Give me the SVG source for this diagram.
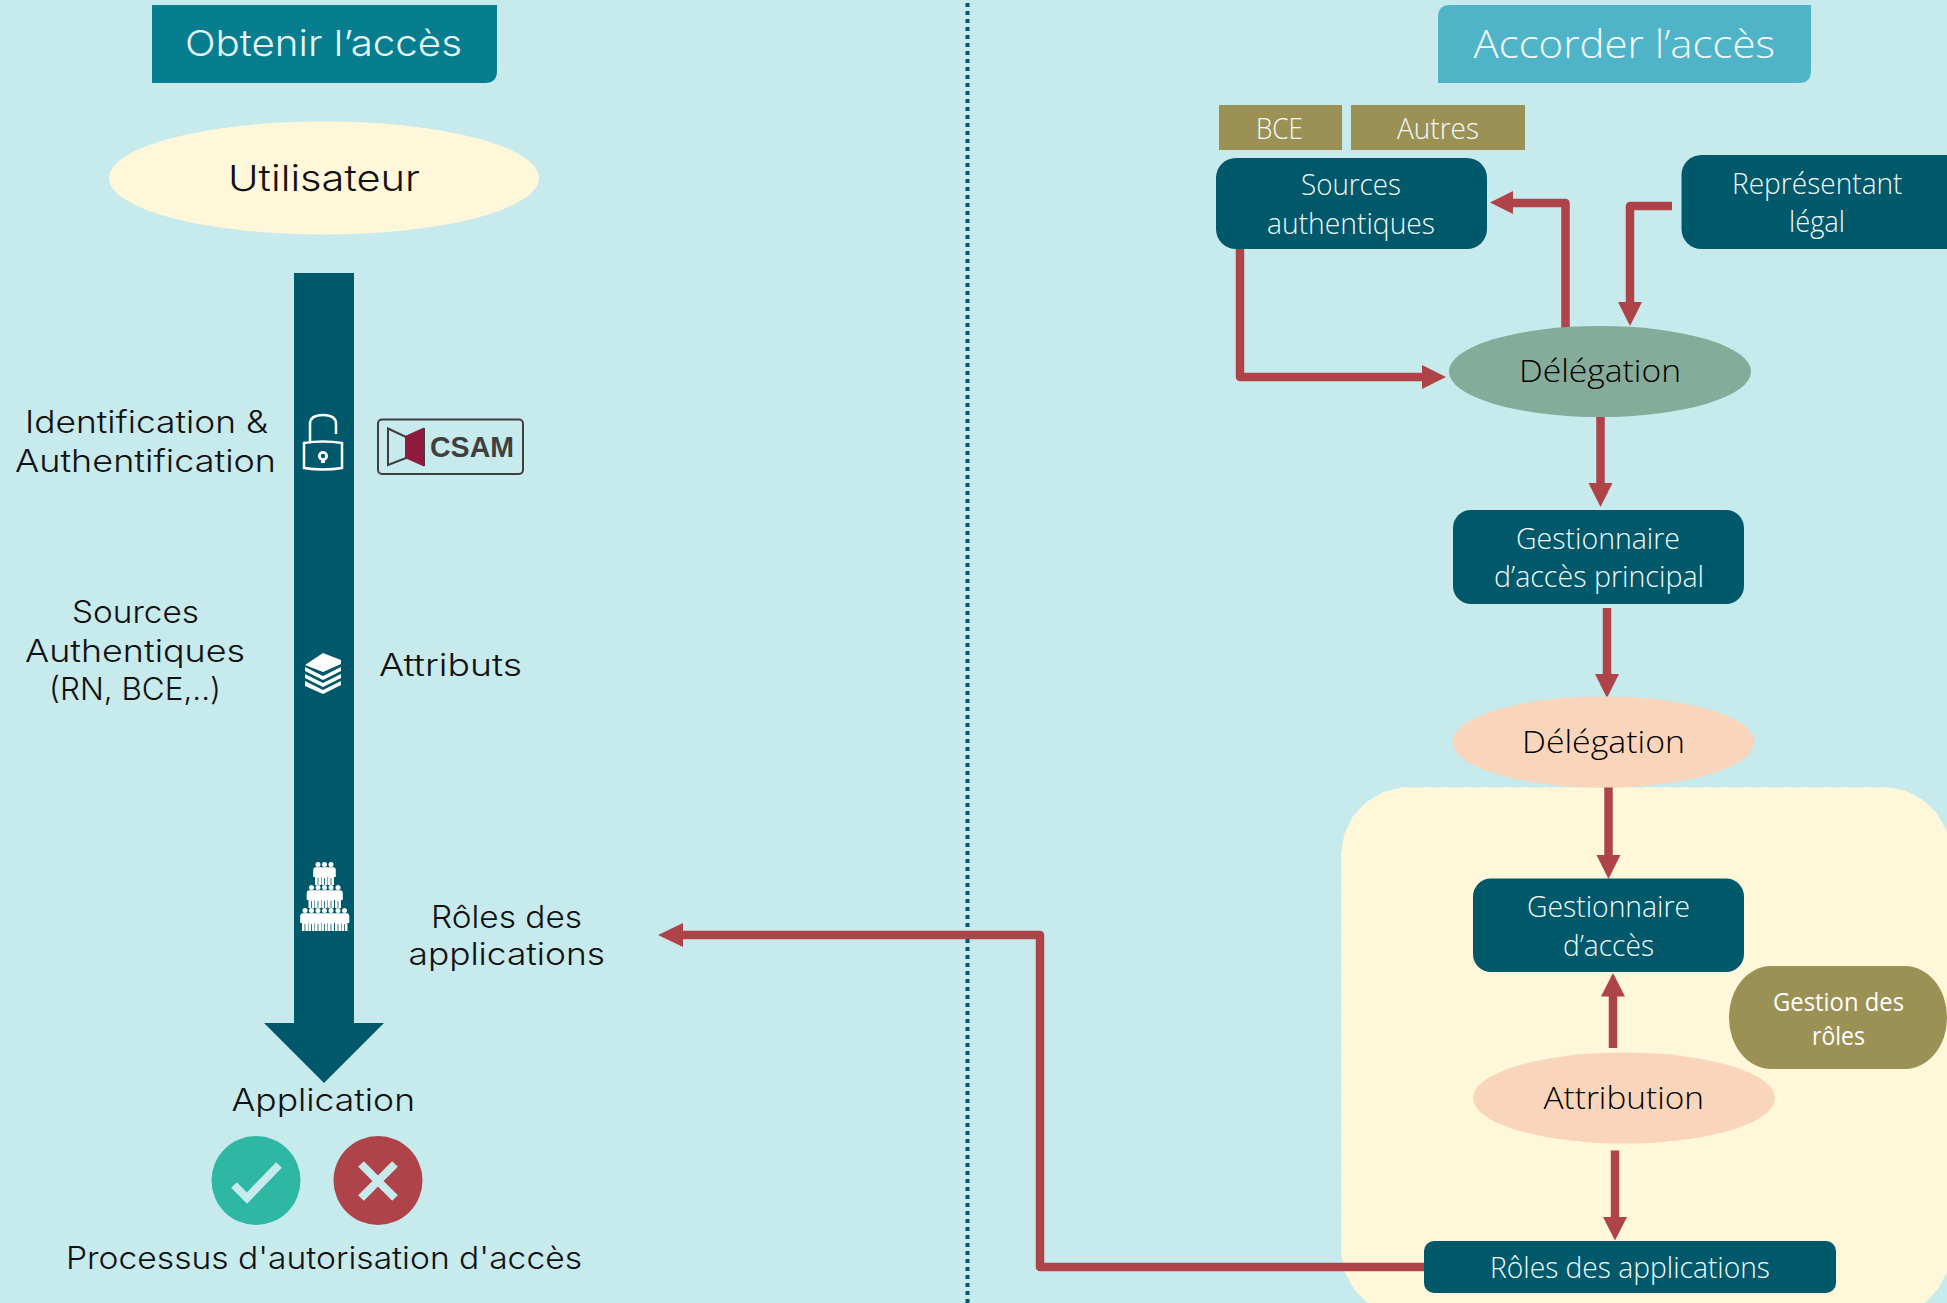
<svg xmlns="http://www.w3.org/2000/svg" width="1947" height="1303" viewBox="0 0 1947 1303">
<style>
.m{font-family:"Inter","Noto Sans","Liberation Sans",sans-serif;font-size:31px;fill:#111;font-weight:300}
.s{font-family:"Open Sans","Noto Sans","Liberation Sans",sans-serif;font-size:28.500px;fill:#f2fafa;font-weight:300}
.d{fill:#000;font-size:31px}
.box{fill:#00586b}
.pe{fill:#f9d6bb}
.ol{fill:#9c9155}
.c{fill:none;stroke:#ae4449;stroke-width:8.500;stroke-linejoin:round}
.h{fill:#ae4449}
.w{fill:#fff}
</style>
<defs>
<g id="p" fill="#fff"><circle cx="0" cy="2.600" r="2.500"/><path d="M-3 5.200H3Q4.800 6 4.800 8L4.800 15H3V23H.4V16H-.4V23H-3V15H-4.800V8Q-4.800 6-3 5.200Z"/></g>
</defs>
<rect width="1947" height="1303" fill="#c7eaec"/>
<path d="M967.500 3V1303" stroke="#00586b" stroke-width="4" stroke-dasharray="4 4" fill="none"/>

<g id="zone"><rect x="1341" y="787" width="610" height="530" rx="68" ry="68" fill="#fff7da" stroke="#c7eaec" stroke-width="1" stroke-dasharray="14 6"/></g>

<g id="connectors">
<path class="c" d="M1240 249V377H1424"/><path class="h" d="M1446 377L1422 365V389Z"/>
<path class="c" d="M1565.500 329V203H1511"/><path class="h" d="M1490 202.500L1513 191V214Z"/>
<path class="c" d="M1672 206H1630V304"/><path class="h" d="M1630 326L1618 302H1642Z"/>
<path class="c" d="M1600.500 417V486"/><path class="h" d="M1600.500 507L1588.500 483H1612.500Z"/>
<path class="c" d="M1607 608V676"/><path class="h" d="M1607 698L1595 674H1619Z"/>
<path class="c" d="M1608.500 787V857"/><path class="h" d="M1608.500 879L1596.500 855H1620.500Z"/>
<path class="c" d="M1613 1048V995"/><path class="h" d="M1613 973L1601 996.500H1625Z"/>
<path class="c" d="M1615 1150.500V1219"/><path class="h" d="M1615 1240.500L1603 1217H1627Z"/>
<path class="c" d="M1424 1267H1040V935H680"/><path class="h" d="M658 935L683 923V947Z"/>
</g>

<g id="header-left"><path d="M152 5H497V71Q497 83 485 83H152Z" fill="#067e8f"/><text class="m" x="185" y="56" style="font-size:36px;fill:#e8f5f5" textLength="277" lengthAdjust="spacingAndGlyphs">Obtenir l’accès</text></g>
<g id="header-right"><path d="M1450 5H1811V71Q1811 83 1799 83H1438V17Q1438 5 1450 5Z" fill="#50b4c9"/><text class="s" x="1473.500" y="58" style="font-size:38px" textLength="301.500" lengthAdjust="spacingAndGlyphs">Accorder l’accès</text></g>

<g id="utilisateur"><ellipse cx="324" cy="178" rx="215" ry="56.500" fill="#fff7da"/><text class="m" x="228" y="190.500" style="font-size:36px" textLength="192" lengthAdjust="spacingAndGlyphs">Utilisateur</text></g>

<g id="flow-arrow"><path class="box" d="M294 273H354V1023H384L324 1083L264 1023H294Z"/></g>

<g id="lock-icon">
<path d="M310 441V424Q310 415 323 415Q336 415 336 424V434" fill="none" stroke="#fff" stroke-width="2.500"/>
<path d="M304 443Q323 440 342 443V468Q323 471 304 468Z" fill="none" stroke="#fff" stroke-width="2.500"/>
<circle class="w" cx="323" cy="456" r="5"/><rect class="w" x="321" y="458" width="4" height="5"/><circle cx="323" cy="456" r="2.200" fill="#00586b"/>
</g>
<g id="books-icon">
<path class="w" d="M305 665L323 653L341 660V664L323 672Z"/>
<path class="w" d="M305 667L323 676L341 667V671L323 680L305 671Z"/>
<path class="w" d="M305 674L323 683L341 674V678L323 687L305 678Z"/>
<path class="w" d="M305 681L323 690L341 681V685L323 694L305 686Z"/>
</g>
<g id="people-icon">
<use href="#p" x="318" y="862"/><use href="#p" x="324.500" y="862"/><use href="#p" x="331" y="862"/>
<use href="#p" x="311.500" y="885"/><use href="#p" x="318" y="885"/><use href="#p" x="324.500" y="885"/><use href="#p" x="331" y="885"/><use href="#p" x="338" y="885"/>
<use href="#p" x="305" y="908"/><use href="#p" x="311.500" y="908"/><use href="#p" x="318" y="908"/><use href="#p" x="324.500" y="908"/><use href="#p" x="331" y="908"/><use href="#p" x="338" y="908"/><use href="#p" x="344.500" y="908"/>
</g>
<g id="csam">
<rect x="378" y="419.500" width="145" height="54.500" rx="4" fill="none" stroke="#3f3f3f" stroke-width="2"/>
<path d="M388 428.500L406 437V458L388 465Z" fill="none" stroke="#3f3f3f" stroke-width="2"/>
<path d="M406 436L424 428V466L406 458Z" fill="#8e1a3e" stroke="#8e1a3e"/>
<path d="M424 428V466" stroke="#3f3f3f" stroke-width="2"/>
<text x="430" y="457" font-family="'Liberation Sans',sans-serif" font-weight="700" font-size="30" fill="#3f3f3f" textLength="84" lengthAdjust="spacingAndGlyphs">CSAM</text>
</g>

<g id="labels-left">
<text class="m" x="25" y="433" textLength="243" lengthAdjust="spacingAndGlyphs">Identification &amp;</text>
<text class="m" x="15" y="472" textLength="261" lengthAdjust="spacingAndGlyphs">Authentification</text>
<text class="m" x="72" y="623" textLength="127" lengthAdjust="spacingAndGlyphs">Sources</text>
<text class="m" x="25" y="661.500" textLength="220" lengthAdjust="spacingAndGlyphs">Authentiques</text>
<text class="m" x="49" y="699.500" textLength="172" lengthAdjust="spacingAndGlyphs">(RN, BCE,..)</text>
<text class="m" x="379" y="676" textLength="143" lengthAdjust="spacingAndGlyphs">Attributs</text>
<text class="m" x="431" y="927.500" textLength="151" lengthAdjust="spacingAndGlyphs">Rôles des</text>
<text class="m" x="408.500" y="965" textLength="196.500" lengthAdjust="spacingAndGlyphs">applications</text>
<text class="m" x="231.500" y="1111" textLength="183.500" lengthAdjust="spacingAndGlyphs">Application</text>
<text class="m" x="66" y="1269" textLength="516" lengthAdjust="spacingAndGlyphs">Processus d'autorisation d'accès</text>
</g>

<g id="accept"><circle cx="256" cy="1180.500" r="44.500" fill="#2eb8a4"/><path d="M234 1185L247 1198L279 1165" fill="none" stroke="#c7eaec" stroke-width="8"/></g>
<g id="refuse"><circle cx="378" cy="1180.500" r="44.500" fill="#ae4449"/><path d="M361 1164L395 1198M395 1164L361 1198" fill="none" stroke="#c7eaec" stroke-width="8"/></g>

<g id="bce"><rect class="ol" x="1219" y="105" width="123" height="45"/><text class="s" x="1256" y="139" textLength="47" lengthAdjust="spacingAndGlyphs">BCE</text></g>
<g id="autres"><rect class="ol" x="1351" y="105" width="174" height="45"/><text class="s" x="1397" y="139" textLength="82" lengthAdjust="spacingAndGlyphs">Autres</text></g>
<g id="sources"><rect class="box" x="1216" y="158" width="271" height="91" rx="20"/><text class="s" x="1301" y="195" textLength="100" lengthAdjust="spacingAndGlyphs">Sources</text><text class="s" x="1267" y="234" textLength="168" lengthAdjust="spacingAndGlyphs">authentiques</text></g>
<g id="representant"><rect class="box" x="1681.500" y="155" width="285" height="94" rx="20"/><text class="s" x="1732" y="194" textLength="170.500" lengthAdjust="spacingAndGlyphs">Représentant</text><text class="s" x="1789" y="232" textLength="56" lengthAdjust="spacingAndGlyphs">légal</text></g>
<g id="delegation-1"><ellipse cx="1600" cy="371.500" rx="151" ry="45.500" fill="#85ab9a"/><text class="s d" x="1519" y="382" textLength="162" lengthAdjust="spacingAndGlyphs">Délégation</text></g>
<g id="gestionnaire-principal"><rect class="box" x="1453" y="510" width="291" height="94" rx="18"/><text class="s" x="1516" y="549" textLength="164" lengthAdjust="spacingAndGlyphs">Gestionnaire</text><text class="s" x="1494" y="587" textLength="210" lengthAdjust="spacingAndGlyphs">d’accès principal</text></g>
<g id="delegation-2"><ellipse class="pe" cx="1603.500" cy="742" rx="151" ry="45.500"/><text class="s d" x="1522" y="753" textLength="163" lengthAdjust="spacingAndGlyphs">Délégation</text></g>
<g id="gestionnaire"><rect class="box" x="1473" y="878.500" width="271" height="93.500" rx="18"/><text class="s" x="1527" y="917" textLength="163" lengthAdjust="spacingAndGlyphs">Gestionnaire</text><text class="s" x="1563" y="955.500" textLength="91" lengthAdjust="spacingAndGlyphs">d’accès</text></g>
<g id="gestion-roles"><rect class="ol" x="1729" y="966" width="218" height="103" rx="42" ry="51"/><text class="s" x="1773" y="1011" style="font-weight:500;fill:#fff;font-size:26px" textLength="131" lengthAdjust="spacingAndGlyphs">Gestion des</text><text class="s" x="1812" y="1044.500" style="font-weight:500;fill:#fff;font-size:26px" textLength="53" lengthAdjust="spacingAndGlyphs">rôles</text></g>
<g id="attribution"><ellipse class="pe" cx="1624" cy="1098" rx="151" ry="45.500"/><text class="s d" x="1543.500" y="1108.500" textLength="160.500" lengthAdjust="spacingAndGlyphs">Attribution</text></g>
<g id="roles-applications"><rect class="box" x="1424" y="1241" width="412" height="52" rx="10"/><text class="s" x="1490" y="1278" textLength="280" lengthAdjust="spacingAndGlyphs">Rôles des applications</text></g>
</svg>
